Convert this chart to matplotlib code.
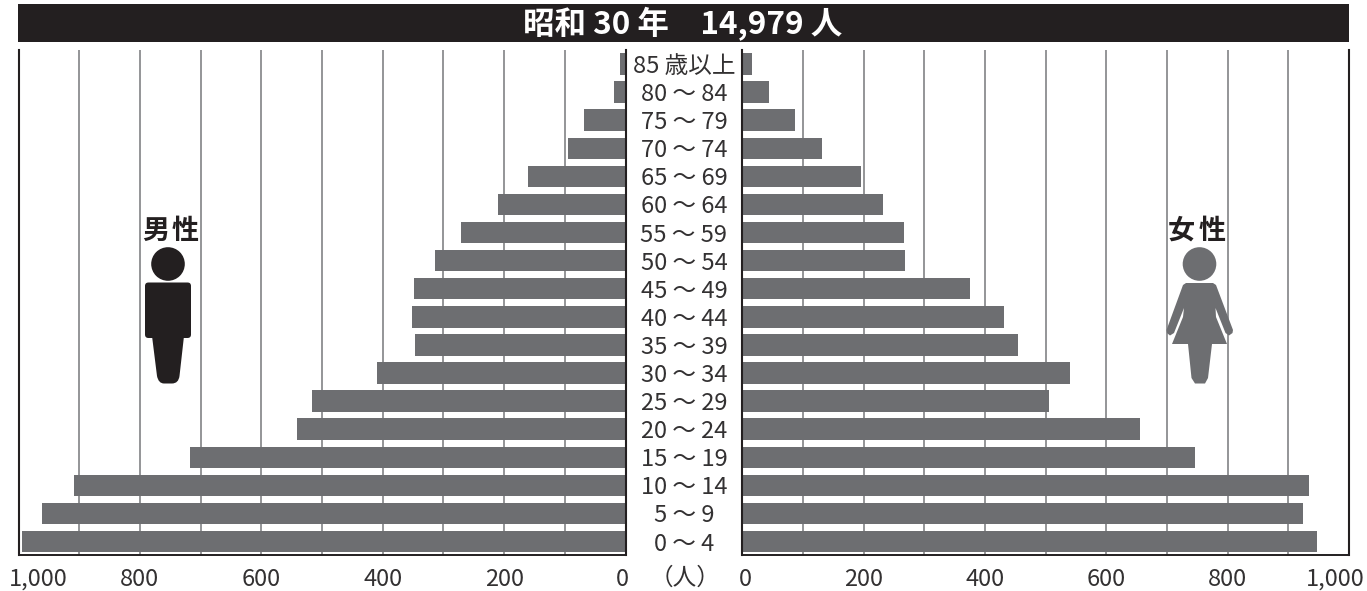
import matplotlib
matplotlib.use("Agg")
import matplotlib.pyplot as plt
from matplotlib.patches import Rectangle, Circle, PathPatch, FancyBboxPatch
from matplotlib.path import Path
from matplotlib.transforms import ScaledTranslation

plt.rcParams['font.family'] = ['Noto Sans CJK JP', 'DejaVu Sans']

age_labels = ['0 ～ 4', '5 ～ 9', '10 ～ 14', '15 ～ 19', '20 ～ 24', '25 ～ 29', '30 ～ 34',
              '35 ～ 39', '40 ～ 44', '45 ～ 49', '50 ～ 54', '55 ～ 59', '60 ～ 64', '65 ～ 69',
              '70 ～ 74', '75 ～ 79', '80 ～ 84', '85 歳以上']
male = [994, 961, 908, 717, 541, 516, 409, 347, 352, 348, 314, 271, 210, 161, 95, 68, 19, 9]
female = [948, 924, 934, 746, 655, 505, 540, 454, 431, 375, 268, 266, 232, 196, 131, 87, 44, 16]
major_ticks = [0, 200, 400, 600, 800, 1000]
tick_labels = ['0', '200', '400', '600', '800', '1,000']
grid_ticks = [100, 200, 300, 400, 500, 600, 700, 800, 900]
title = '昭和 30 年　14,979 人'

W, H = 1367, 591
DARK = '#231f20'
BAR = '#6d6e71'
GRID = '#77787b'
TEXT = '#333132'

fig = plt.figure(figsize=(W / 100, H / 100), dpi=100, facecolor='white')

def axes_px(x0, x1, y_top, y_bot):
    return fig.add_axes([x0 / W, 1 - y_bot / H, (x1 - x0) / W, (y_bot - y_top) / H])

axL = axes_px(18.5, 625.5, 50, 555)
axR = axes_px(742.3, 1349, 50, 555)
ypos = list(range(len(age_labels)))
for ax, vals in ((axL, male), (axR, female)):
    ax.set_xlim(0, 1000)
    ax.set_ylim(-0.48, 17.5)
    ax.barh(ypos, vals, height=0.765, color=BAR, zorder=3)
    ax.set_facecolor('none')
    ax.set_yticks([])
    ax.set_xticks(major_ticks)
    ax.set_xticklabels(tick_labels, fontsize=17, color=TEXT)
    ax.tick_params(axis='x', length=0, pad=9)
    for g in grid_ticks:
        ax.axvline(g, color=GRID, lw=1.1, zorder=1)
    for s in ('top', 'left', 'right'):
        ax.spines[s].set_visible(False)
    ax.spines['bottom'].set_color(DARK)
    ax.spines['bottom'].set_linewidth(1.4)
    ax.axvline(0, color=DARK, lw=1.5, zorder=4, clip_on=False)
    ax.axvline(1000, color=DARK, lw=1.5, zorder=4, clip_on=False)
axL.invert_xaxis()

# Shift end labels inward as in the reference (pixel offsets)
def shift(label, px):
    label.set_transform(label.get_transform() + ScaledTranslation(px / 100, 0, fig.dpi_scale_trans))

L = axL.get_xticklabels()
R = axR.get_xticklabels()
shift(L[0], -3.5)
shift(L[-1], 19.5)
shift(R[0], 3)
shift(R[-1], -14)

# Overlay in pixel coordinates for furniture
ov = fig.add_axes([0, 0, 1, 1], facecolor='none')
ov.set_xlim(0, W)
ov.set_ylim(H, 0)
ov.axis('off')
ov.add_patch(Rectangle((18, 4), 1331, 38, color=DARK, lw=0))
ov.text(683, 24, title, color='white', fontsize=22.7, fontweight='bold', ha='center', va='center')

for i, lab in enumerate(age_labels):
    y = axL.transData.transform((0, i))[1]
    ov.text(684, H - y + 2.5, lab, fontsize=17, color=TEXT, ha='center', va='center')
ov.text(685, 578, '（人）', fontsize=17, color=TEXT, ha='center', va='center')

for x, ch in ((155.5, '男'), (185.5, '性'), (1181.5, '女'), (1212, '性')):
    ov.text(x, 231, ch, fontsize=19.5, fontweight='bold', color=DARK, ha='center', va='center')

M, L3, C3 = Path.MOVETO, Path.LINETO, Path.CURVE3

# male icon
ov.add_patch(Circle((168, 264), 16.8, color=DARK, lw=0))
ov.add_patch(FancyBboxPatch((145, 282.5), 46, 55.5, boxstyle='round,pad=0,rounding_size=3.5', color=DARK, lw=0))
m_v = [(152, 336), (184, 336), (179.5, 376), (178.5, 383.5), (172, 383.5), (164, 383.5),
       (158.5, 383.5), (157, 376), (152, 336)]
m_c = [M, L3, L3, C3, C3, L3, C3, C3, L3]
ov.add_patch(PathPatch(Path(m_v, m_c), color=DARK, lw=0))

# female icon
FEM = BAR
ov.add_patch(Circle((1199.5, 264), 16.8, color=FEM, lw=0))
f = [(1186, 283), (1213, 283), (1216, 285), (1233, 330), (1232.5, 333), (1229, 335.5), (1225.5, 333),
     (1215.5, 308), (1216, 317), (1227, 344), (1212, 344), (1208, 378), (1205, 383.5), (1195, 383.5),
     (1191.5, 378), (1188, 344), (1172, 344), (1183, 317), (1184, 308), (1174, 333), (1170, 335.5),
     (1167, 333), (1166.5, 330), (1183, 285), (1186, 283)]
ov.add_patch(PathPatch(Path(f, closed=True), color=FEM, lw=0))

fig.savefig('out.png', dpi=100, facecolor='white')
